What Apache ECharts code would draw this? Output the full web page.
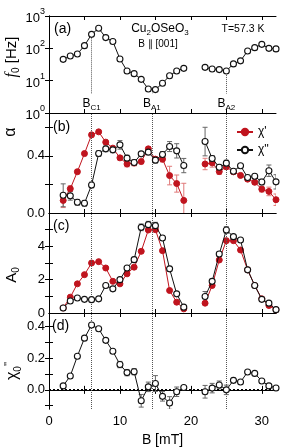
<!DOCTYPE html>
<html><head><meta charset="utf-8">
<script src="https://cdn.jsdelivr.net/npm/echarts@6/dist/echarts.min.js"></script>
<style>html,body{margin:0;padding:0;background:#fff}#c{width:291px;height:448px}</style>
</head><body><div id="c"></div>
<script>
// ---- data ----
const B = [2,3,4,5,6,7,8,9,10,11,12,13,14,15,16,17,18,19, 22,23,24,25,26,27,28,29,30,31,32];
const f0 = [45.7,58,67,121,271,417,215,162,47,20,16.5,11,5.5,5.3,8.3,14.2,20,24, 25.8,23,22,20,33,41,83,105,133,100,96];
const alphaRe = [0.088,0.17,0.289,0.416,0.547,0.568,0.496,0.454,0.386,0.343,0.35,0.36,0.449,0.377,0.377,0.262,0.206,0.088, 0.343,0.351,0.29,0.323,0.288,0.263,0.237,0.215,0.167,0.151,0.093];
const alphaReErr = [0.05,0.02,0.015,0.015,0.015,0.01,0.01,0.01,0.015,0.02,0.02,0.015,0.015,0.015,0.02,0.065,0.06,0.12, 0.04,0.03,0.02,0.015,0.015,0.015,0.015,0.015,0.02,0.03,0.04];
const alphaIm = [0.124,0.12,0.075,0.068,0.196,0.416,0.449,0.442,0.477,0.384,0.353,0.414,0.426,0.37,0.41,0.465,0.435,0.332, 0.50,0.382,0.32,0.349,0.292,0.331,0.248,0.257,0.217,0.296,0.218];
const alphaImErr = [0.08,0.03,0.02,0.02,0.02,0.02,0.02,0.02,0.03,0.02,0.02,0.015,0.015,0.02,0.02,0.035,0.05,0.05, 0.10,0.02,0.02,0.02,0.015,0.015,0.015,0.015,0.02,0.04,0.05];
const A0Re = [0.3,0.95,1.75,2.3,3.0,3.08,2.7,1.9,1.75,2.35,2.75,3.7,4.98,5.0,3.74,1.35,0.65,0.25, 0.59,1.65,3.18,4.34,4.34,3.78,2.59,1.65,0.85,0.45,0.19];
const A0ReErr = [0.05,0.05,0.05,0.05,0.05,0.05,0.05,0.05,0.05,0.05,0.05,0.08,0.1,0.1,0.08,0.05,0.05,0.05, 0.05,0.05,0.08,0.1,0.08,0.05,0.05,0.05,0.05,0.05,0.05];
const A0Im = [0.3,0.72,0.9,0.82,0.8,0.85,1.65,1.45,2.0,2.7,3.2,5.14,5.3,5.24,4.5,2.65,1.15,0.35, 0.99,1.9,3.54,4.98,4.58,4.38,2.59,1.65,0.82,0.59,0.2];
const A0ImErr = [0.05,0.05,0.05,0.05,0.05,0.05,0.05,0.05,0.08,0.1,0.15,0.2,0.2,0.2,0.15,0.15,0.1,0.05, 0.3,0.15,0.15,0.2,0.1,0.08,0.05,0.05,0.05,0.05,0.05];
const chi0 = [0.025,0.088,0.213,0.327,0.41,0.386,0.313,0.244,0.16,0.109,0.115,-0.069,0.019,0.04,-0.041,-0.083,-0.012,0.015, -0.012,0.011,0.031,0.0,0.06,0.05,0.113,0.104,0.056,0.025,0.012];
const chi0Err = [0.005,0.005,0.005,0.005,0.005,0.005,0.005,0.005,0.02,0.02,0.02,0.04,0.03,0.05,0.03,0.04,0.03,0.01, 0.04,0.03,0.025,0.03,0.015,0.01,0.005,0.005,0.005,0.005,0.005];
const critB = [6, 14.5, 25];
const critNames = ['C1','A1','A2'];
const critF0Top = [271, 5.4, 20];
const critF0Bottom = 4;
const xTicks = [5,10,15,20,25,30];
const xLabels = [0,10,20,30];

// ---- helpers ----
const FONT = 'Liberation Sans, Arial, sans-serif';
const RED = '#c0141e', RED_ERR = '#e07a7a', BLK = '#111', BLK_ERR = '#666';
function pairs(vals){
  const out = [];
  B.forEach((b,i)=>{ if(i>0 && b-B[i-1]>1) out.push([(b+B[i-1])/2,'-']); out.push([b, vals[i]]); });
  return out;
}
function errData(vals, errs){ return B.map((b,i)=>[b, vals[i]-errs[i], vals[i]+errs[i]]); }
function errRender(color){
  return function(params, api){
    const x = api.value(0), lo = api.value(1), hi = api.value(2);
    const p1 = api.coord([x, hi]), p2 = api.coord([x, lo]);
    const w = 2.5, st = {stroke: color, lineWidth: 1};
    return {type:'group', children:[
      {type:'line', shape:{x1:p1[0],y1:p1[1],x2:p2[0],y2:p2[1]}, style:st},
      {type:'line', shape:{x1:p1[0]-w,y1:p1[1],x2:p1[0]+w,y2:p1[1]}, style:st},
      {type:'line', shape:{x1:p2[0]-w,y1:p2[1],x2:p2[0]+w,y2:p2[1]}, style:st}
    ]};
  };
}
const grids = [
  {left:49, right:15, top:16, height:97},
  {left:49, right:15, top:113, height:100},
  {left:49, right:15, top:213, height:100},
  {left:49, right:15, top:313, height:97}
];
const axLine = {show:true, lineStyle:{color:'#000', width:1}};
const xAxes = [], yAxes = [];
grids.forEach((g,i)=>{
  ['bottom','top'].forEach(pos=>{
    const showLab = (i===3 && pos==='bottom');
    xAxes.push({
      gridIndex:i, type:'value', position:pos, min:0, max:32,
      axisLine:axLine, splitLine:{show:false},
      axisTick:{show:true, inside:true, length:4, customValues:xTicks, lineStyle:{color:'#000'}},
      axisLabel:{show:showLab, customValues:xLabels, color:'#000', fontSize:13, fontFamily:FONT, margin:6},
      name: showLab ? 'B [mT]' : '', nameLocation:'middle', nameGap:24,
      nameTextStyle:{color:'#000', fontSize:14, fontFamily:FONT}
    });
  });
});
const yCfg = [
  {type:'log', logBase:10, min:1, max:1000, labels:null, ticks:null},
  {type:'value', min:0, max:0.7, labels:[0,0.4], ticks:[0.2,0.4,0.6], fmt:v=>v.toFixed(1)},
  {type:'value', min:0, max:6, labels:[0,2,4], ticks:[1,2,3,4,5], fmt:v=>String(v)},
  {type:'value', min:-0.121, max:0.486, labels:[0,0.2,0.4], ticks:[-0.1,0,0.1,0.2,0.3,0.4], fmt:v=>v.toFixed(1)}
];
yCfg.forEach((c,i)=>{
  ['left','right'].forEach(pos=>{
    const ax = {
      gridIndex:i, type:c.type, position:pos, min:c.min, max:c.max,
      axisLine:axLine, splitLine:{show:false}, minorTick:{show:false},
      axisTick:{show:true, inside:true, length:4, lineStyle:{color:'#000'}},
      axisLabel:{show:pos==='left', color:'#000', fontSize:13, fontFamily:FONT, margin:4}
    };
    if (c.type==='log') {
      ax.logBase = 10;
      ax.axisLabel.formatter = v => '{a|10}{s|' + Math.round(Math.log10(v)) + '}';
      ax.axisLabel.rich = {
        a:{fontSize:13, fontFamily:FONT, color:'#000', lineHeight:18, verticalAlign:'bottom'},
        s:{fontSize:9, fontFamily:FONT, color:'#000', lineHeight:18, verticalAlign:'top'}
      };
    } else {
      ax.axisLabel.customValues = c.labels;
      ax.axisLabel.formatter = c.fmt;
      ax.axisTick.customValues = c.ticks;
    }
    yAxes.push(ax);
  });
});

const vLines = critB.map(b=>({xAxis:b}));
const vLineStyle = {type:'dotted', color:'#555', width:1};
function lineSeries(name, gi, vals, red, extra){
  return Object.assign({
    name, type:'line', xAxisIndex:gi*2, yAxisIndex:gi*2, data:pairs(vals),
    symbol:'circle', symbolSize:6, connectNulls:false, animation:false,
    lineStyle:{color: red?RED:BLK, width:1},
    itemStyle: red ? {color:RED, borderColor:RED, borderWidth:1} : {color:'#fff', borderColor:BLK, borderWidth:1.1},
    z: red?4:5
  }, extra||{});
}
function errSeries(gi, vals, errs, red){
  return {type:'custom', xAxisIndex:gi*2, yAxisIndex:gi*2, data:errData(vals,errs),
    encode:{x:0, y:[1,2]}, renderItem:errRender(red?RED_ERR:BLK_ERR), clip:true, z:2, animation:false, silent:true};
}
const mlBase = {silent:true, symbol:['none','none'], animation:false};

const series = [
  // panel a
  lineSeries('f0', 0, f0, false, {markLine: Object.assign({}, mlBase, {
    lineStyle: vLineStyle,
    label:{show:true, position:'end', distance:2, color:'#000', fontFamily:FONT,
      formatter: p => 'B{s|' + p.name + '}',
      rich:{s:{fontSize:8, fontFamily:FONT, color:'#000', verticalAlign:'bottom', lineHeight:16}}, fontSize:12, lineHeight:16},
    data: critB.map((b,i)=>[{name:critNames[i], coord:[b, critF0Top[i]]},{coord:[b, critF0Bottom]}])
  })}),
  // panel b
  errSeries(1, alphaRe, alphaReErr, true),
  errSeries(1, alphaIm, alphaImErr, false),
  lineSeries("χ'", 1, alphaRe, true),
  lineSeries("χ''", 1, alphaIm, false, {markLine: Object.assign({}, mlBase, {lineStyle:vLineStyle, label:{show:false}, data:vLines})}),
  // panel c
  errSeries(2, A0Re, A0ReErr, true),
  errSeries(2, A0Im, A0ImErr, false),
  lineSeries("χ'", 2, A0Re, true),
  lineSeries("χ''", 2, A0Im, false, {markLine: Object.assign({}, mlBase, {lineStyle:vLineStyle, label:{show:false}, data:vLines})}),
  // panel d
  errSeries(3, chi0, chi0Err, false),
  lineSeries("χ''", 3, chi0, false, {markLine: Object.assign({}, mlBase, {label:{show:false}, data:[
    ...critB.map(b=>({xAxis:b, lineStyle:vLineStyle})),
    {yAxis:0, lineStyle:{type:[2,2], color:'#000', width:2}}
  ]})})
];

const txt = (x,y,text,size,extra)=>Object.assign({type:'text', x, y, silent:true,
  style:Object.assign({text, font: size+'px '+FONT, fill:'#000', textAlign:'left', textVerticalAlign:'middle'}, (extra&&extra.style)||{})},
  extra ? (({style, ...r})=>r)(extra) : {});

const chart = echarts.init(document.getElementById('c'), null, {renderer:'canvas'});
chart.setOption({
  backgroundColor:'#fff',
  animation:false,
  textStyle:{fontFamily:FONT},
  grid: grids,
  xAxis: xAxes,
  yAxis: yAxes,
  legend:{
    data:["χ'","χ''"], orient:'vertical', left:231, top:121, itemWidth:16, itemHeight:8, itemGap:6,
    textStyle:{fontSize:12, color:'#000', fontFamily:FONT}, selectedMode:false
  },
  series,
  graphic:[
    txt(54, 29.5, '(a)', 14),
    txt(53, 127, '(b)', 14),
    txt(53, 226, '(c)', 14),
    txt(52, 326, '(d)', 14),
    txt(160, 29, 'Cu{s|2}OSeO{s|3}', 12, {style:{textAlign:'center', rich:{s:{fontSize:8, fontFamily:FONT, verticalAlign:'bottom', lineHeight:16}}}}),
    txt(158, 44, 'B ∥ [001]', 10, {style:{textAlign:'center'}}),
    txt(243, 29, 'T=57.3 K', 10.5, {style:{textAlign:'center'}}),
    txt(12, 57, '{i|f}{s|0} [Hz]', 15, {rotation:Math.PI/2, style:{textAlign:'center', rich:{i:{fontStyle:'italic', fontSize:16, fontFamily:'Liberation Serif, serif'}, s:{fontSize:10, fontFamily:FONT, verticalAlign:'bottom', lineHeight:18}}}}),
    txt(11, 132, 'α', 16, {rotation:Math.PI/2, style:{textAlign:'center'}}),
    txt(12, 275, 'A{s|0}', 15, {rotation:Math.PI/2, style:{textAlign:'center', rich:{s:{fontSize:10, fontFamily:FONT, verticalAlign:'bottom', lineHeight:18}}}}),
    txt(13, 371, 'χ{s|0}{p|\'\'}', 16, {rotation:Math.PI/2, style:{textAlign:'center', rich:{s:{fontSize:10, fontFamily:FONT, verticalAlign:'bottom', lineHeight:20}, p:{fontSize:11, fontFamily:FONT, verticalAlign:'top', lineHeight:20}}}})
  ]
});
</script>
</body></html>
